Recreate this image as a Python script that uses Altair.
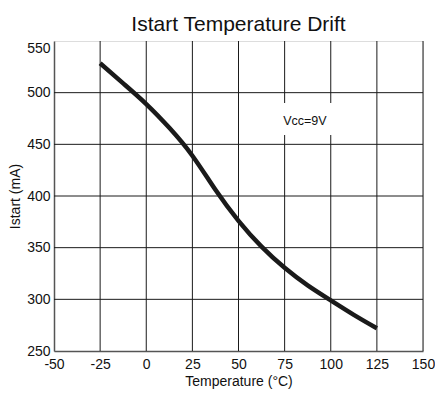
import altair as alt
import pandas as pd

# Curve data
temps = [-25, -12.5, 0, 12.5, 25, 37.5, 50, 62.5, 75, 87.5, 100, 112.5, 125]
istart = [528.5, 509, 489, 466, 439, 406, 376, 351, 330.5, 313.5, 299, 285, 272]

x_grid = [-25, 0, 25, 50, 75, 100, 125, 150]
y_grid = [300, 350, 400, 450, 500]
x_ticks = [-50, -25, 0, 25, 50, 75, 100, 125, 150]
y_ticks = [250, 300, 350, 400, 450, 500, 550]

note_text = ["Vcc=9V"]
note_x = [86]
note_y = [473]
note_box_x = [72, 102]
note_box_y = [459, 490]

curve = pd.DataFrame({"t": temps, "i": istart})
xg = pd.DataFrame({"v": x_grid})
yg = pd.DataFrame({"v": y_grid})
note = pd.DataFrame({"label": note_text, "x": note_x, "y": note_y})
box = pd.DataFrame({"x": [note_box_x[0]], "x2": [note_box_x[1]],
                    "y": [note_box_y[0]], "y2": [note_box_y[1]]})

FONT = "Liberation Sans"
xs = alt.Scale(domain=[-50, 150], nice=False, zero=False)
ys = alt.Scale(domain=[250, 550], nice=False, zero=False)

x_axis = alt.Axis(values=x_ticks, title="Temperature (°C)", grid=False, ticks=False,
                  labelExpr="'' + datum.value",
                  labelPadding=6, titlePadding=3, labelFontSize=14, titleFontSize=14,
                  labelFont=FONT, titleFont=FONT, labelColor="#111", titleColor="#111",
                  titleFontWeight="normal", domainColor="#555", domainWidth=1.5,
                  labelFlush=False)
y_axis = alt.Axis(values=y_ticks, title="Istart (mA)", grid=False, ticks=False,
                  labelExpr="'' + datum.value",
                  labelPadding=4, titlePadding=4, labelFontSize=14, titleFontSize=14,
                  labelFont=FONT, titleFont=FONT, labelColor="#111", titleColor="#111",
                  titleFontWeight="normal", domainColor="#555", domainWidth=1.5,
                  labelBaseline={"condition": {"test": "datum.value == 550", "value": "top"},
                                 "value": "middle"})

vgrid = alt.Chart(xg).mark_rule(color="#1a1a1a", strokeWidth=1).encode(
    x=alt.X("v:Q", scale=xs, axis=x_axis),
)
hgrid = alt.Chart(yg).mark_rule(color="#1a1a1a", strokeWidth=1).encode(
    y=alt.Y("v:Q", scale=ys, axis=y_axis),
)
rect = alt.Chart(box).mark_rect(color="white").encode(
    x=alt.X("x:Q", scale=xs), x2="x2:Q",
    y=alt.Y("y:Q", scale=ys), y2="y2:Q",
)
text = alt.Chart(note).mark_text(font=FONT, fontSize=12.5, color="#111").encode(
    x=alt.X("x:Q", scale=xs), y=alt.Y("y:Q", scale=ys), text="label:N",
)
line = alt.Chart(curve).mark_line(color="#1a1a1a", strokeWidth=4.5,
                                  interpolate="natural", strokeCap="butt").encode(
    x=alt.X("t:Q", scale=xs), y=alt.Y("i:Q", scale=ys),
)

chart = alt.layer(vgrid, hgrid, rect, text, line).properties(
    width=369, height=310,
    title=alt.TitleParams("Istart Temperature Drift", font=FONT, fontSize=21,
                          fontWeight="normal", color="#111", offset=6, anchor="middle"),
    autosize=alt.AutoSizeParams(type="none"),
    padding={"left": 46, "top": 33, "right": 12, "bottom": 42},
).configure_view(stroke=None).configure(background="white")

chart.save("out.html", embed_options={"renderer": "svg", "actions": False})
